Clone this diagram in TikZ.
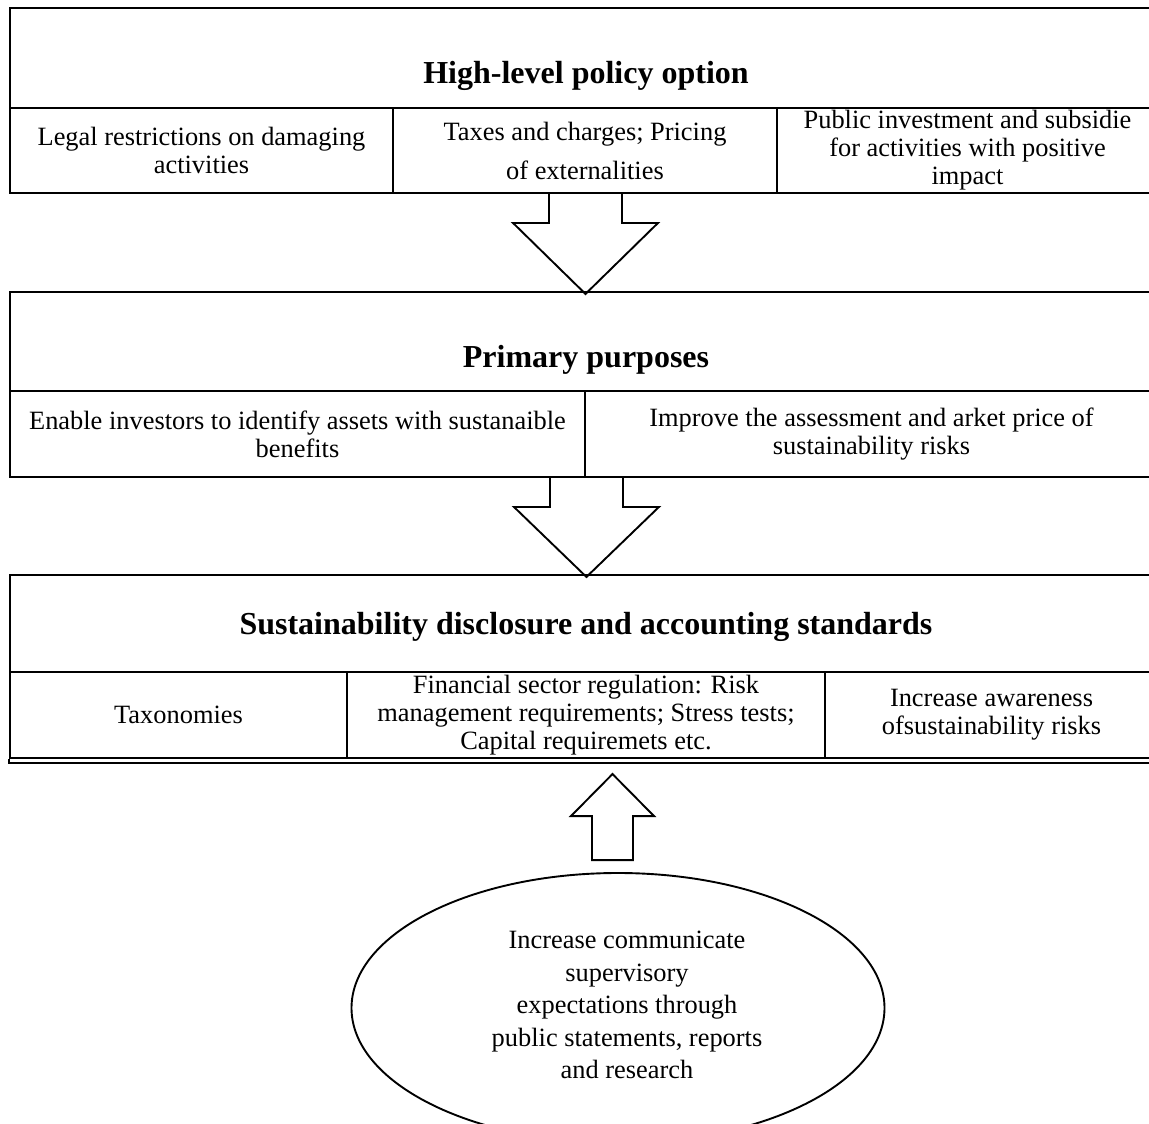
\documentclass[tikz,border=0pt]{standalone}
\usepackage{fontspec}
\setmainfont{Liberation Serif}
\usetikzlibrary{calc,shapes.geometric}
\begin{document}
\begin{tikzpicture}[x=1pt,y=-1pt, line width=1.9pt,
  cell/.style={draw, rectangle, inner sep=0pt},
  body/.style={font=\fontsize{26.4}{28}\selectfont, align=center},
  ttl/.style={font=\fontsize{32}{38}\selectfont\bfseries, inner sep=0pt},
  blk/.style={draw, line join=miter}]
\clip (0,0) rectangle (1149,1124);
\useasboundingbox (0,0) rectangle (1149,1124);
\fill[white] (0,0) rectangle (1149,1124);

% ---- box 1
\node[cell, minimum width=1148pt, minimum height=100pt] (h1) at (584,58) {};
\node[ttl] (t1) at (586,76) {High-level policy option};
\node[cell, body, minimum width=383pt, minimum height=85pt] (c11) at (201.5,150.5)
  {Legal restrictions on damaging\\activities};
\node[cell, body, minimum width=384pt, minimum height=85pt] (c12) at (585,150.5)
  {Taxes and charges; Pricing\\[11pt]of externalities};
\node[cell, body, minimum width=381pt, minimum height=85pt] (c13) at (967.5,150.5)
  {Public investment and subsidie\\for activities with positive\\impact};

% ---- box 2
\node[cell, minimum width=1148pt, minimum height=99pt] (h2) at (584,341.5) {};
\node[ttl] (t2) at (586,360) {Primary purposes};
\node[cell, body, minimum width=575pt, minimum height=86pt] (c21) at (297.5,434)
  {Enable investors to identify assets with sustanaible\\benefits};
\node[cell, body, minimum width=573pt, minimum height=86pt] (c22) at (871.5,434)
  {Improve the assessment and arket price of\\sustainability risks};

% ---- box 3
\node[cell, minimum width=1148pt, minimum height=97pt] (h3) at (584,623.5) {};
\node[ttl] (t3) at (586,627) {Sustainability disclosure and accounting standards};
\node[cell, body, minimum width=337pt, minimum height=86pt] (c31) at (178.5,715)
  {Taxonomies};
\node[cell, body, minimum width=478pt, minimum height=86pt] (c32) at (586,715)
  {Financial sector regulation: Risk\\management requirements; Stress tests;\\Capital requiremets etc.};
\node[cell, body, minimum width=333pt, minimum height=86pt] (c33) at (991.5,715)
  {Increase awareness\\ofsustainability risks};
\coordinate (dl) at ($(c31.south west)+(0,4)$);
\coordinate (dr) at ($(c33.south east)+(0,4)$);
\draw (c31.south west) -- (dl) -- (dr);

% ---- ellipse
\node[draw, ellipse, inner sep=0pt, minimum width=533pt, minimum height=270pt] (e) at (618,1008) {};
\node[font=\fontsize{26.4}{32.5}\selectfont, align=center] (etxt) at (627,1005)
  {Increase communicate\\supervisory\\expectations through\\public statements, reports\\and research};

% ---- block arrows
\coordinate (a1) at ($(c12.south)+(0.5,0)$);
\draw[blk] ($(a1)+(-36.5,0)$) -- ($(a1)+(-36.5,29)$) -- ($(a1)+(-72.5,29)$)
  -- ($(a1)+(0,100)$) -- ($(a1)+(72.5,29)$) -- ($(a1)+(36.5,29)$) -- ($(a1)+(36.5,0)$);

\coordinate (a2) at ($(c21.south east)+(0.5,0)$);
\draw[blk] ($(a2)+(-36.5,0)$) -- ($(a2)+(-36.5,29)$) -- ($(a2)+(-72.5,29)$)
  -- ($(a2)+(0,99)$) -- ($(a2)+(72.5,29)$) -- ($(a2)+(36.5,29)$) -- ($(a2)+(36.5,0)$);

\coordinate (u0) at ($(e.north)+(-5.5,-12)$);
\draw[blk] ($(u0)+(-20.5,0)$) -- ($(u0)+(-20.5,-44)$) -- ($(u0)+(-41.5,-44)$)
  -- ($(u0)+(0,-86)$) -- ($(u0)+(41.5,-44)$) -- ($(u0)+(20.5,-44)$)
  -- ($(u0)+(20.5,0)$) -- cycle;
\end{tikzpicture}
\end{document}
